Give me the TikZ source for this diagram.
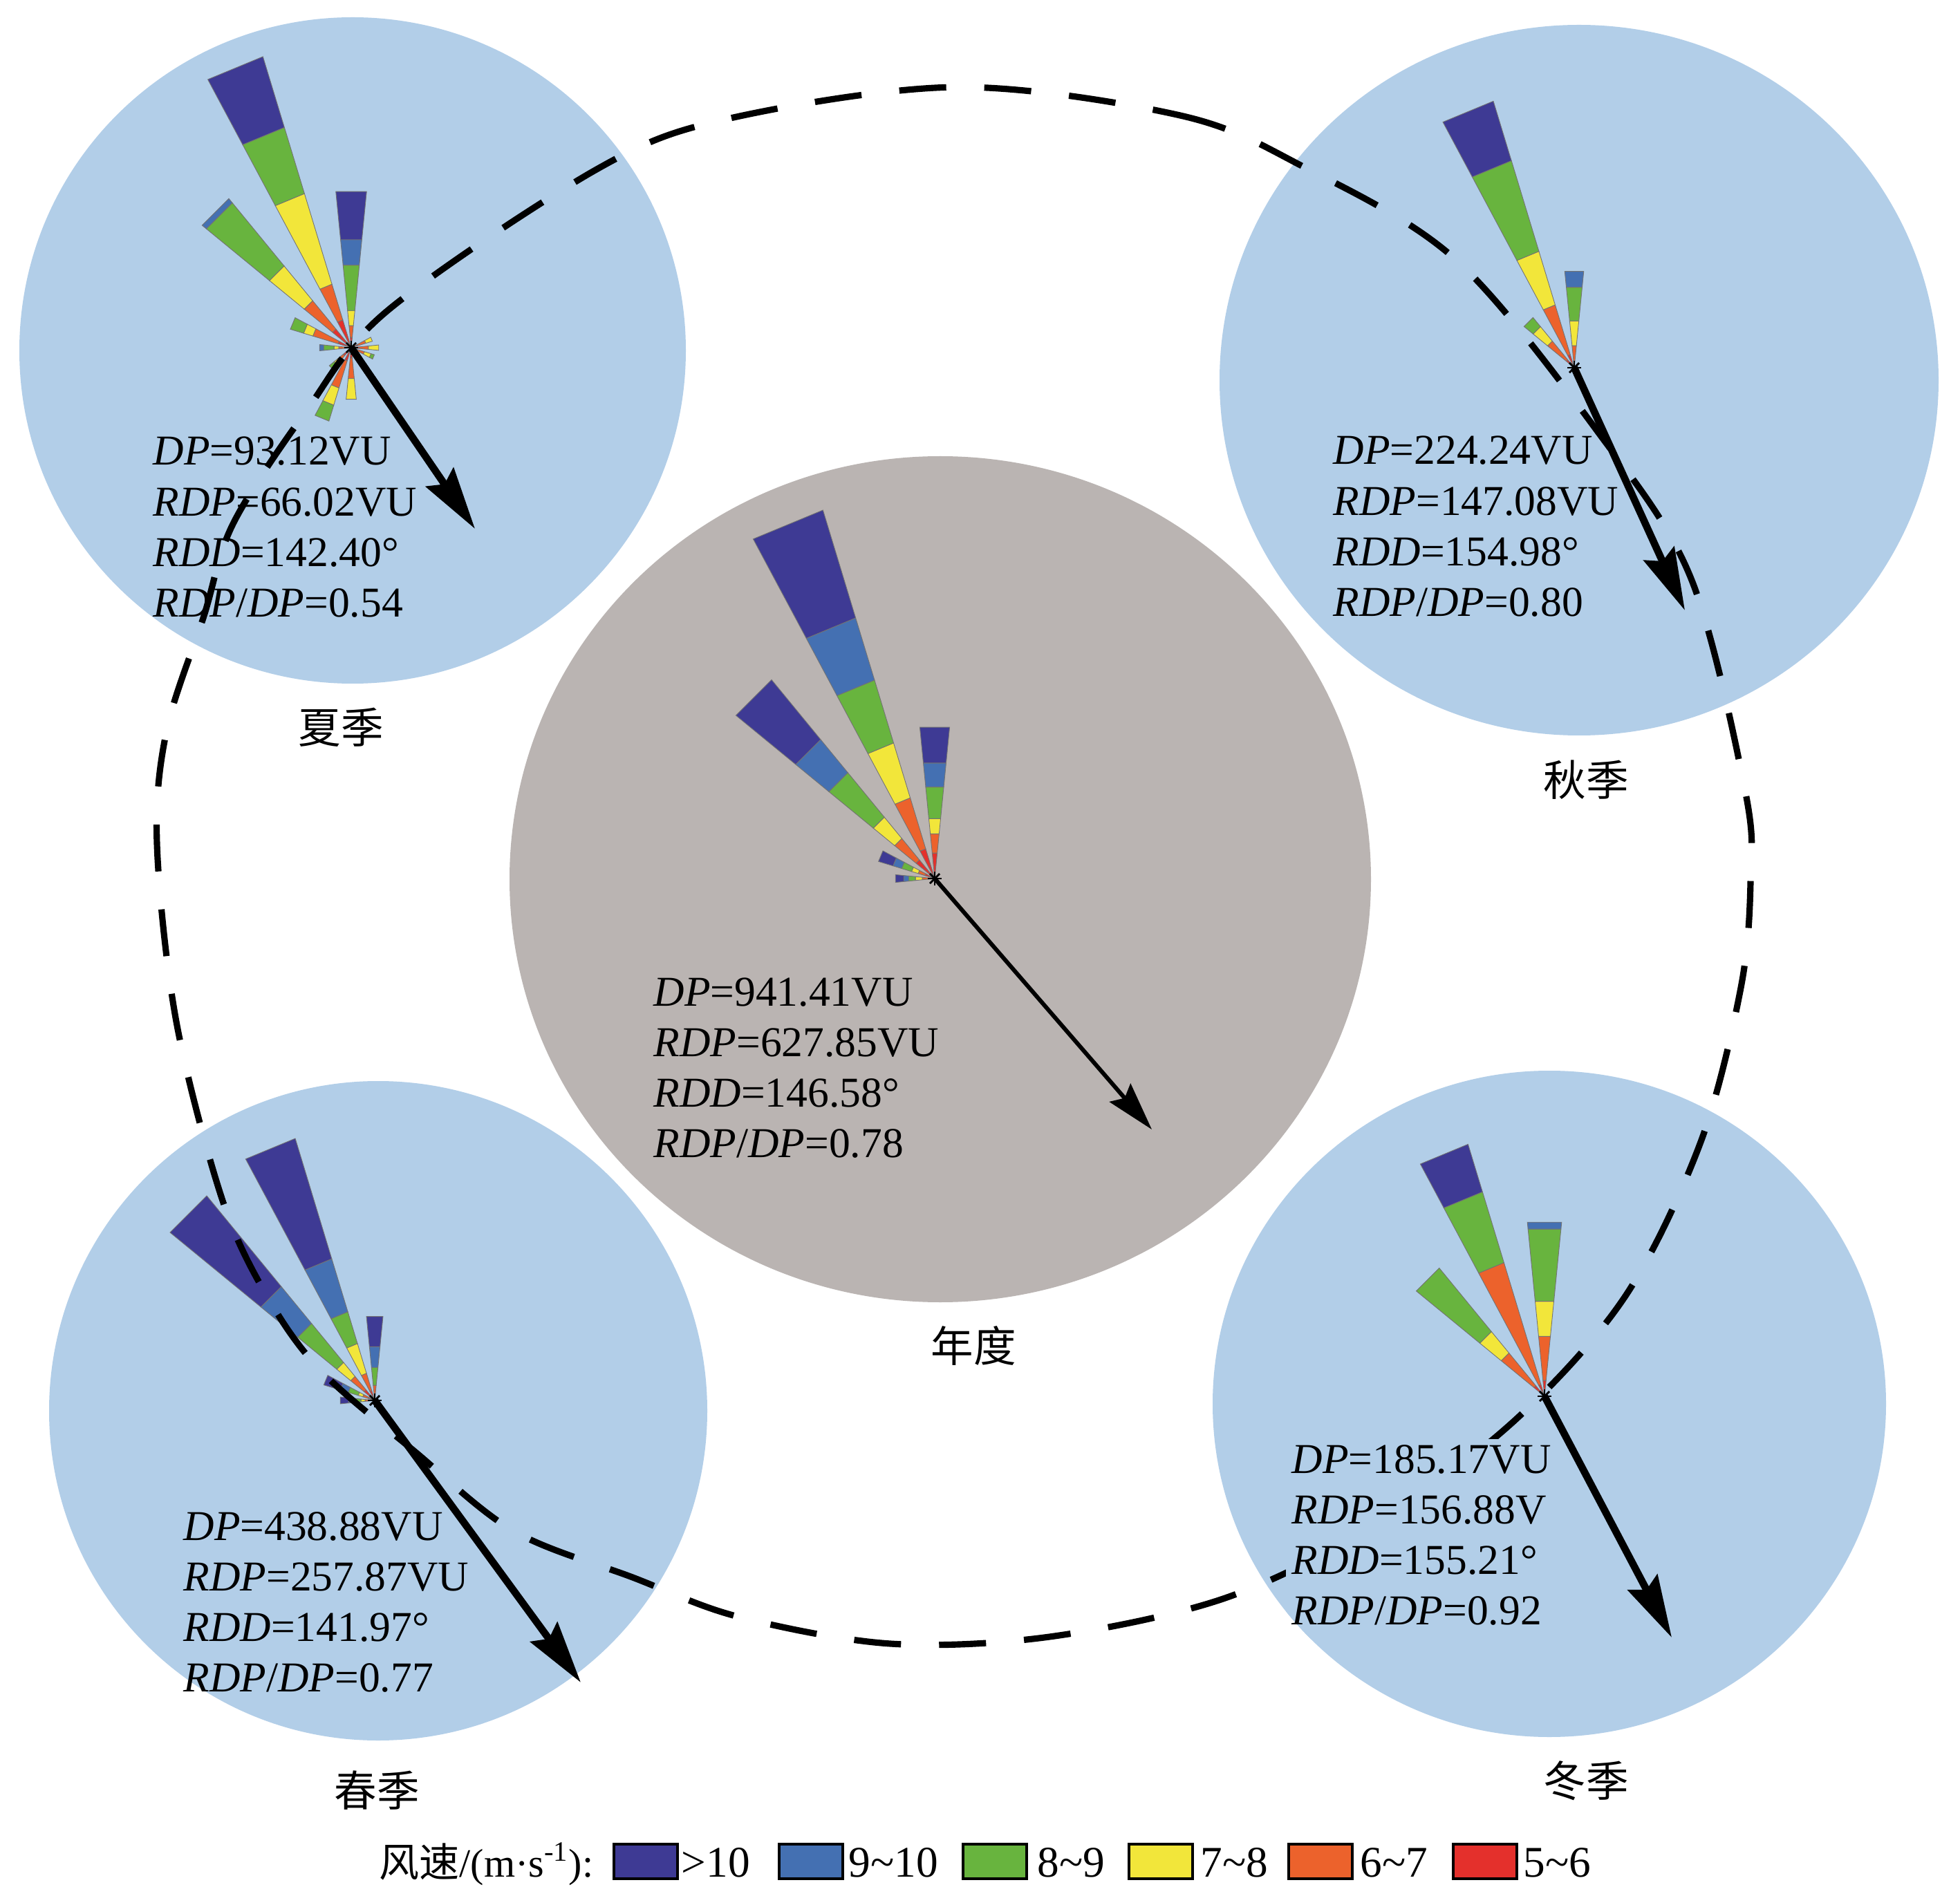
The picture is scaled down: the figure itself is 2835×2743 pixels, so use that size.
\documentclass[tikz,border=0pt]{standalone}
\usepackage{fontspec}
\setmainfont{Liberation Serif}
\newfontfamily\cjk{Noto Sans CJK SC}
\usetikzlibrary{arrows.meta}

\definecolor{spdTen}{RGB}{62,58,148}
\definecolor{spdNine}{RGB}{68,112,178}
\definecolor{spdEight}{RGB}{104,180,62}
\definecolor{spdSeven}{RGB}{242,230,58}
\definecolor{spdSix}{RGB}{236,98,44}
\definecolor{spdFive}{RGB}{228,48,44}
\definecolor{seasonBlue}{RGB}{178,206,232}
\definecolor{yearGray}{RGB}{186,180,178}

\newcommand{\petal}[8]{%
  \begin{scope}[shift={(#1)}]
    \foreach \ri/\ro/\cc in {0/#3/spdFive,#3/#4/spdSix,#4/#5/spdSeven,#5/#6/spdEight,#6/#7/spdNine,#7/#8/spdTen}{
      \ifdim\ri pt<\ro pt
        \filldraw[fill=\cc, draw=black!55, line width=0.25pt] ({#2-95.625}:\ri) -- ({#2-95.625}:\ro) -- ({#2-84.375}:\ro) -- ({#2-84.375}:\ri) -- cycle;
      \fi}
  \end{scope}}

\newcommand{\stats}[7]{%
  \node[statText] (#1-dp) at (#2,#3) {#4};
  \node[statText] (#1-rdp) at (#2,#3+73.3) {#5};
  \node[statText] (#1-rdd) at (#2,#3+146.6) {#6};
  \node[statText] (#1-ratio) at (#2,#3+219.9) {#7};}

\begin{document}
\begin{tikzpicture}[x=0.01cm, y=-0.01cm,
    statText/.style={anchor=base west, inner sep=0pt, font=\fontsize{17.5}{21}\selectfont},
    seasonLabel/.style={inner sep=0pt, font=\cjk\fontsize{17.5}{21}\selectfont},
    resArrow/.style={line width=3pt, -{Stealth[length=0.9cm, width=0.48cm, inset=0.12cm]}},
    keyBox/.style={draw=black, line width=1pt},
    keyText/.style={anchor=base west, inner sep=0pt, font=\fontsize{18}{21}\selectfont}]
    \fill[white] (0,0) rectangle (2835,2743);
    \useasboundingbox (0,0) rectangle (2835,2743);

    \fill[seasonBlue] (510,507) ellipse[x radius=482, y radius=482];
    \fill[seasonBlue] (2284,550) ellipse[x radius=520, y radius=514];
    \fill[yearGray] (1360,1272) ellipse[x radius=623, y radius=612];
    \fill[seasonBlue] (547,2041) ellipse[x radius=476, y radius=477];
    \fill[seasonBlue] (2241,2031) ellipse[x radius=487, y radius=482];

    \coordinate (su-o) at (508,503);
    \coordinate (su-t) at (687,765);
    \coordinate (au-o) at (2277,532);
    \coordinate (au-t) at (2437,883);
    \coordinate (yr-o) at (1352,1271);
    \coordinate (yr-t) at (1666,1634);
    \coordinate (sp-o) at (542,2026);
    \coordinate (sp-t) at (840,2434);
    \coordinate (wi-o) at (2234,2020);
    \coordinate (wi-t) at (2418,2369);

    \petal{su-o}{337.5}{42}{96}{233}{333}{333}{440}
    \petal{su-o}{315}{35}{88}{153}{271}{279}{279}
    \petal{su-o}{0}{15}{32}{54}{120}{157}{227}
    \petal{su-o}{292.5}{20}{58}{72}{92}{92}{92}
    \petal{su-o}{270}{10}{18}{25}{40}{46}{46}
    \petal{su-o}{202.5}{20}{61}{87}{111}{111}{111}
    \petal{su-o}{180}{15}{45}{75}{75}{75}{75}
    \petal{su-o}{225}{15}{25}{32}{41}{41}{41}
    \petal{su-o}{90}{12}{25}{40}{40}{40}{40}
    \petal{su-o}{112.5}{10}{20}{30}{35}{35}{35}
    \petal{su-o}{67.5}{10}{22}{32}{32}{32}{32}

    \petal{au-o}{337.5}{20}{95}{176}{313}{313}{403}
    \petal{au-o}{0}{10}{32}{68}{117}{140}{140}
    \petal{au-o}{315}{15}{50}{77}{94}{94}{94}

    \petal{yr-o}{337.5}{45}{122}{205}{300}{394}{557}
    \petal{yr-o}{315}{35}{75}{115}{198}{260}{372}
    \petal{yr-o}{0}{37}{65}{87}{133}{168}{220}
    \petal{yr-o}{292.5}{15}{25}{35}{50}{63}{85}
    \petal{yr-o}{270}{10}{18}{28}{38}{45}{57}

    \petal{sp-o}{337.5}{15}{41}{86}{134}{214}{396}
    \petal{sp-o}{315}{20}{45}{71}{144}{213}{383}
    \petal{sp-o}{0}{10}{22}{22}{48}{78}{122}
    \petal{sp-o}{292.5}{10}{18}{25}{40}{52}{77}
    \petal{sp-o}{270}{8}{14}{20}{30}{38}{50}

    \petal{wi-o}{337.5}{18}{202}{202}{309}{309}{381}
    \petal{wi-o}{315}{20}{81}{121}{240}{240}{240}
    \petal{wi-o}{0}{23}{87}{138}{243}{253}{253}

    \foreach \o in {su-o,au-o,yr-o,sp-o,wi-o}
        \foreach \a in {0,45,90,135}
            \draw[line width=0.8pt] (\o) ++(\a:10) -- ++(\a+180:20);

    \draw[resArrow] (su-o) -- (su-t);
    \draw[resArrow] (au-o) -- (au-t);
    \draw[resArrow] (sp-o) -- (sp-t);
    \draw[resArrow] (wi-o) -- (wi-t);
    \draw[line width=1.7pt, -{Stealth[length=0.7cm, width=0.4cm, inset=0.1cm]}] (yr-o) -- (yr-t);

    \stats{su}{221}{673}{\textit{DP}=93.12VU}{\textit{RDP}=66.02VU}{\textit{RDD}=142.40°}{\textit{RDP}/\textit{DP}=0.54}
    \stats{au}{1928}{672}{\textit{DP}=224.24VU}{\textit{RDP}=147.08VU}{\textit{RDD}=154.98°}{\textit{RDP}/\textit{DP}=0.80}
    \stats{yr}{945}{1455}{\textit{DP}=941.41VU}{\textit{RDP}=627.85VU}{\textit{RDD}=146.58°}{\textit{RDP}/\textit{DP}=0.78}
    \stats{sp}{265}{2228}{\textit{DP}=438.88VU}{\textit{RDP}=257.87VU}{\textit{RDD}=141.97°}{\textit{RDP}/\textit{DP}=0.77}

    \node[seasonLabel] (lbl-su) at (493,1052) {夏季};
    \node[seasonLabel] (lbl-au) at (2294,1128) {秋季};
    \node[seasonLabel] (lbl-yr) at (1408,1947) {年度};
    \node[seasonLabel] (lbl-sp) at (545,2590) {春季};
    \node[seasonLabel] (lbl-wi) at (2294,2576) {冬季};

    \draw[line width=2.6pt, dash pattern=on 0.68cm off 0.55cm]
        plot[smooth cycle, tension=0.55] coordinates {(1385,126) (1707,167) (1881,239) (2105,375)
        (2315,630) (2446,837) (2525,1148) (2532,1277) (2518,1429) (2460,1652) (2351,1875)
        (2192,2054) (1990,2205) (1772,2312) (1518,2368) (1288,2378) (1068,2339) (915,2282)
        (743,2215) (600,2100) (466,1985) (389,1880) (322,1737) (255,1478) (227,1220)
        (241,1057) (295,891) (337,758) (442,596) (561,449) (863,245) (1052,172)};

    \begin{scope}
        \clip (2241,2031) ellipse[x radius=487, y radius=482];
        \fill[seasonBlue] (1860,2082) rectangle (2250,2372);
    \end{scope}
    \stats{wi}{1868}{2131}{\textit{DP}=185.17VU}{\textit{RDP}=156.88V}{\textit{RDD}=155.21°}{\textit{RDP}/\textit{DP}=0.92}

    \node[keyText, font=\fontsize{16.5}{21}\selectfont] (key-title) at (548,2715) {{\cjk 风速}/(m·s\textsuperscript{-1}):};
    \foreach \c/\bx/\tx/\t [count=\i] in {spdTen/888/985/{>10}, spdNine/1127/1227/{9\textasciitilde 10},
        spdEight/1393/1500/{8\textasciitilde 9}, spdSeven/1633/1736/{7\textasciitilde 8},
        spdSix/1864/1967/{6\textasciitilde 7}, spdFive/2102/2203/{5\textasciitilde 6}}{
        \draw[keyBox, fill=\c] (\bx,2668) rectangle ++(92,50);
        \node[keyText] (key-\i) at (\tx,2715) {\t};
    }
\end{tikzpicture}
\end{document}
